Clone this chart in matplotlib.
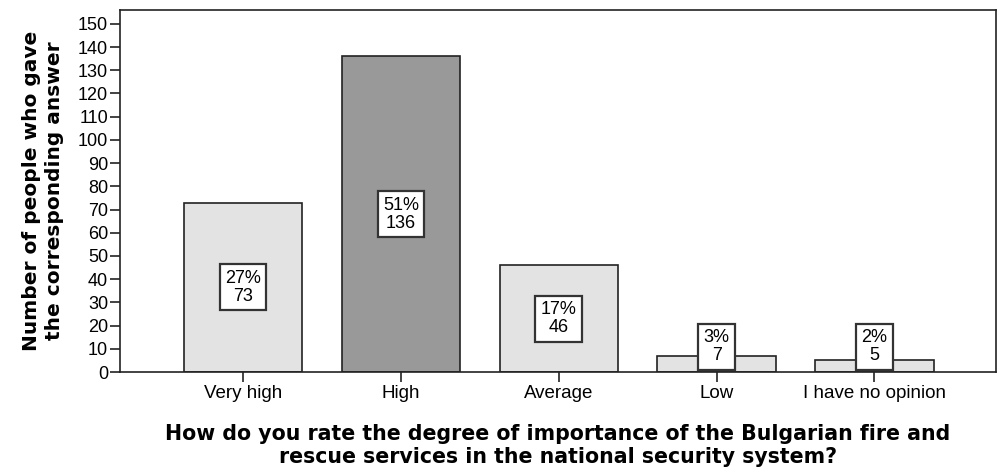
import matplotlib
matplotlib.use('Agg')
import matplotlib.pyplot as plt
import numpy as np

# --- Data ---
categories = ['Very high', 'High', 'Average', 'Low', 'I have no opinion']
counts = [73, 136, 46, 7, 5]
percents = ['27%', '51%', '17%', '3%', '2%']
bar_colors = ['#e3e3e3', '#999999', '#e3e3e3', '#e3e3e3', '#e3e3e3']

plt.rcParams['font.family'] = ['Liberation Sans', 'DejaVu Sans']

fig = plt.figure(figsize=(10, 4.73), dpi=100)
ax = fig.add_axes([0.12, 0.2135, 0.876, 0.7655])

x = np.arange(len(categories))
ax.bar(x, counts, width=0.75, color=bar_colors, edgecolor='#222222', linewidth=1.2, zorder=2)

# value boxes, kept above the baseline for the small bars
for xi, c, p in zip(x, counts, percents):
    ypos = max(c / 2, 10.9)
    ax.text(xi, ypos, f'{p}\n{c}', ha='center', va='center', fontsize=13,
            linespacing=1.1, zorder=3,
            bbox=dict(boxstyle='square,pad=0.3', facecolor='white',
                      edgecolor='#333333', linewidth=1.6))

ax.set_xlim(-0.78, 4.77)
ax.set_ylim(0, 156)
ax.set_yticks(np.arange(0, 151, 10))
ax.set_xticks(x)
ax.set_xticklabels(categories)
ax.tick_params(axis='both', labelsize=13, length=7.5, width=1.2, color='#222222', pad=1)
ax.tick_params(axis='x', labelsize=13.5, pad=2)

for s in ax.spines.values():
    s.set_linewidth(1.2)
    s.set_color('#222222')

ax.set_ylabel('Number of people who gave\nthe corresponding answer', fontsize=14.5,
              fontweight='bold', family='DejaVu Sans', linespacing=1.3, labelpad=10)
ax.set_xlabel('How do you rate the degree of importance of the Bulgarian fire and\n'
              'rescue services in the national security system?', fontsize=14.8,
              fontweight='bold', family='DejaVu Sans', linespacing=1.15, labelpad=16)

fig.savefig('out.png', dpi=100)
